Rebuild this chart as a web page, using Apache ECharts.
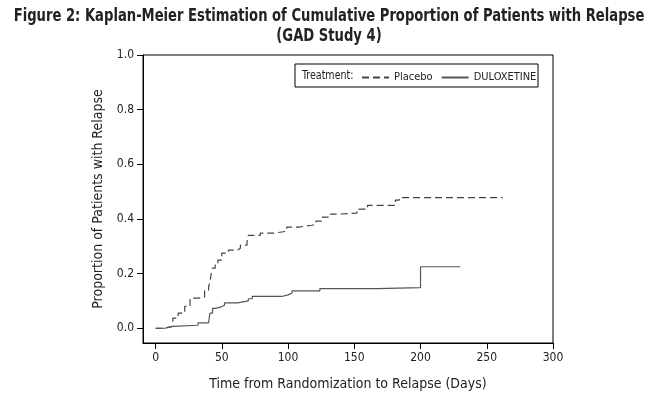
<!DOCTYPE html>
<html>
<head>
<meta charset="utf-8">
<script src="https://cdn.jsdelivr.net/npm/echarts@6/dist/echarts.min.js"></script>
<style>
  html, body { margin: 0; padding: 0; background: #fff; }
  #chart { width: 658px; height: 398px; }
</style>
</head>
<body>
<div id="chart"></div>
<script>
// Kaplan-Meier step points (day, cumulative proportion relapsed)
var placeboDays = [0, 6, 13, 17, 22, 26, 32, 37, 40, 41, 42, 43, 45, 47, 50, 55, 62, 64, 69, 70, 79, 89, 99, 108, 118, 121, 126, 132, 139, 152, 160, 181, 184, 262];
var placeboProp = [0, 0.007, 0.037, 0.055, 0.08, 0.11, 0.114, 0.139, 0.15, 0.17, 0.2, 0.22, 0.235, 0.249, 0.275, 0.286, 0.293, 0.304, 0.315, 0.34, 0.348, 0.355, 0.37, 0.377, 0.381, 0.392, 0.407, 0.418, 0.421, 0.436, 0.45, 0.469, 0.478, 0.478];
var duloxDays = [0, 7, 13, 32, 40, 41, 43, 45, 49, 52, 62, 70, 73, 96, 100, 103, 124, 167, 200, 230];
var duloxProp = [0, 0.007, 0.011, 0.02, 0.027, 0.055, 0.073, 0.077, 0.084, 0.093, 0.1, 0.108, 0.117, 0.122, 0.129, 0.137, 0.145, 0.149, 0.225, 0.225];
var xTicks = [0, 50, 100, 150, 200, 250, 300];
var yTicks = [0, 0.2, 0.4, 0.6, 0.8, 1.0];

var font = "'DejaVu Sans Condensed', 'Liberation Sans Narrow', sans-serif";
var txt = '#222';

// turn KM event points into explicit horizontal/vertical step segments
function steps(xs, ys) {
    var out = [[xs[0], ys[0]]];
    for (var i = 1; i < xs.length; i++) {
        out.push([xs[i], ys[i - 1]]);
        out.push([xs[i], ys[i]]);
    }
    return out;
}

var chart = echarts.init(document.getElementById('chart'));
var option = {
    animation: false,
    backgroundColor: '#fff',
    textStyle: { fontFamily: font, color: txt },
    grid: {
        left: 143, top: 55, right: 105, bottom: 55,
        show: true, borderColor: '#000', borderWidth: 1
    },
    legend: {
        left: 356, top: 67,
        itemWidth: 27, itemHeight: 10, itemGap: 8,
        itemStyle: { opacity: 0 },
        textStyle: { fontFamily: font, fontSize: 11, color: txt },
        data: ['Placebo', 'DULOXETINE']
    },
    graphic: [
        { type: 'text', x: 329, y: 7, scaleX: 0.86,
          style: { text: 'Figure 2: Kaplan-Meier Estimation of Cumulative Proportion of Patients with Relapse\n(GAD Study 4)',
                   fontFamily: font, fontSize: 17, fontWeight: 'bold', fill: txt, lineHeight: 20, align: 'center' } },
        { type: 'rect', shape: { x: 295, y: 64, width: 243, height: 23 }, style: { fill: 'none', stroke: '#000', lineWidth: 1 } },
        { type: 'text', x: 302, y: 70, scaleX: 0.92, style: { text: 'Treatment:', fontFamily: font, fontSize: 11.5, fill: txt } }
    ],
    xAxis: {
        type: 'value', min: -9.5, max: 300,
        name: 'Time from Randomization to Relapse (Days)',
        nameLocation: 'middle', nameGap: 34,
        nameTextStyle: { fontFamily: font, fontSize: 14, color: txt },
        axisLine: { onZero: false, lineStyle: { color: '#000' } },
        axisTick: { show: true, length: 6, lineStyle: { color: '#000' }, customValues: xTicks },
        axisLabel: { fontFamily: font, fontSize: 12, color: txt, margin: 9, customValues: xTicks },
        splitLine: { show: false }
    },
    yAxis: {
        type: 'value', min: -0.054, max: 1.0,
        name: 'Proportion of Patients with Relapse',
        nameLocation: 'middle', nameGap: 38,
        nameTextStyle: { fontFamily: font, fontSize: 14, color: txt },
        axisLine: { onZero: false, lineStyle: { color: '#000' } },
        axisTick: { show: true, length: 6, lineStyle: { color: '#000' }, customValues: yTicks },
        axisLabel: { fontFamily: font, fontSize: 12, color: txt, margin: 9, customValues: yTicks,
            formatter: function (v) { return v.toFixed(1); } },
        splitLine: { show: false }
    },
    series: [{
        name: 'Placebo',
        type: 'line',
        symbol: 'none',
        data: steps(placeboDays, placeboProp),
        itemStyle: { color: '#444' },
        lineStyle: { color: '#444', width: 1.2, type: [7, 4] }
    }, {
        name: 'DULOXETINE',
        type: 'line',
        symbol: 'none',
        data: steps(duloxDays, duloxProp),
        itemStyle: { color: '#555' },
        lineStyle: { color: '#555', width: 1.2, type: 'solid' }
    }]
};
chart.setOption(option);
</script>
</body>
</html>
